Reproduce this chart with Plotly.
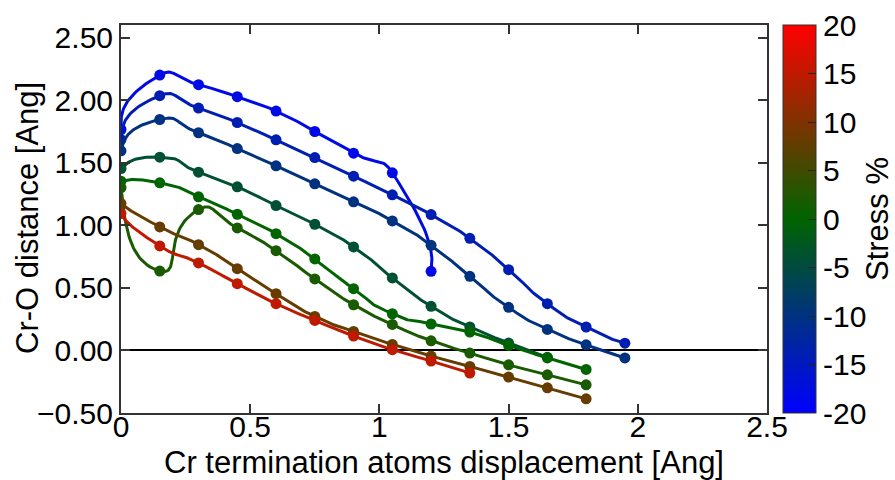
import numpy as np
import plotly.graph_objects as go
from plotly.colors import sample_colorscale

# ---- data ----
displacement = [0.0, 0.15, 0.30, 0.45, 0.60, 0.75, 0.90, 1.05, 1.20, 1.35, 1.50, 1.65, 1.80, 1.95]

stress = [-18, -14, -10, -4, 0, 2, 8, 15]

dist_m18 = [1.765, 2.200, 2.123, 2.027, 1.912, 1.749, 1.576, 1.419, 0.632]
dist_m14 = [1.685, 2.035, 1.936, 1.821, 1.683, 1.541, 1.392, 1.243, 1.085, 0.896, 0.645, 0.373, 0.187, 0.058]
dist_m10 = [1.595, 1.845, 1.739, 1.613, 1.475, 1.331, 1.187, 1.035, 0.840, 0.592, 0.344, 0.168, 0.045, -0.060]
dist_m4 = [1.453, 1.544, 1.424, 1.307, 1.157, 1.008, 0.827, 0.579, 0.352, 0.187, 0.059, -0.055]
dist_0 = [1.352, 1.339, 1.227, 1.088, 0.933, 0.731, 0.493, 0.293, 0.211, 0.147, 0.040, -0.060, -0.152]
dist_2 = [1.300, 0.634, 1.125, 0.979, 0.797, 0.571, 0.365, 0.208, 0.077, -0.021, -0.115, -0.195, -0.275]
dist_8 = [1.173, 0.987, 0.845, 0.653, 0.453, 0.272, 0.152, 0.048, -0.045, -0.128, -0.213, -0.299, -0.387]
dist_15 = [1.093, 0.835, 0.699, 0.533, 0.373, 0.240, 0.115, 0.006, -0.085, -0.181]

series = [dist_m18, dist_m14, dist_m10, dist_m4, dist_0, dist_2, dist_8, dist_15]

x_ticks = [0, 0.5, 1, 1.5, 2, 2.5]
x_ticktext = ["0", "0.5", "1", "1.5", "2", "2.5"]
y_ticks = [-0.5, 0.0, 0.5, 1.0, 1.5, 2.0, 2.5]
cbar_ticks = [-20, -15, -10, -5, 0, 5, 10, 15, 20]

# ---- style / layout ----
cscale = [[0.0, "rgb(0,0,255)"], [0.5, "rgb(0,100,0)"], [1.0, "rgb(255,0,0)"]]
cmin, cmax = -20, 20
FONT = "Liberation Sans"
W, H = 895, 480
ML, MR, MT, MB = 121, 128, 25, 67
PW, PH = W - ML - MR, H - MT - MB
XR = [0, 2.5]
YR = [-0.5, 2.6]
TENSION = 0.7


def smooth_curve(xs, ys, n=40, t=TENSION):
    """Cardinal Hermite smoothing with chord-weighted tangents (data units)."""
    P = np.column_stack([xs, ys]).astype(float)
    d = np.hypot(*np.diff(P, axis=0).T)
    N = len(P)
    m_out = np.zeros_like(P)
    m_in = np.zeros_like(P)
    for i in range(1, N - 1):
        v = P[i + 1] - P[i - 1]
        m_out[i] = 3 * t * d[i] / (d[i - 1] + d[i]) * v
        m_in[i] = 3 * t * d[i - 1] / (d[i - 1] + d[i]) * v
    m_out[0] = (3 * (P[1] - P[0]) - m_in[1]) / 2
    m_in[-1] = (3 * (P[-1] - P[-2]) - m_out[-2]) / 2
    s = np.linspace(0, 1, n)[:, None]
    h00 = 2 * s**3 - 3 * s**2 + 1
    h10 = s**3 - 2 * s**2 + s
    h01 = -2 * s**3 + 3 * s**2
    h11 = s**3 - s**2
    out = []
    for i in range(N - 1):
        seg = h00 * P[i] + h10 * m_out[i] + h01 * P[i + 1] + h11 * m_in[i + 1]
        out.append(seg if i == 0 else seg[1:])
    c = np.vstack(out)
    return c[:, 0], c[:, 1]


fig = go.Figure()
for s, ys in zip(stress, series):
    col = sample_colorscale(cscale, [(s - cmin) / (cmax - cmin)])[0]
    xs = displacement[:len(ys)]
    cx, cy = smooth_curve(xs, ys)
    fig.add_trace(go.Scatter(x=cx, y=cy, mode="lines", line=dict(color=col, width=3),
                             showlegend=False, hoverinfo="skip"))
    fig.add_trace(go.Scatter(x=xs, y=ys, mode="markers", marker=dict(color=col, size=11),
                             showlegend=False, hoverinfo="skip"))

# colorbar carrier
fig.add_trace(go.Scatter(
    x=[None], y=[None], mode="markers", showlegend=False,
    marker=dict(color=[cmin, cmax], cmin=cmin, cmax=cmax, colorscale=cscale, showscale=True,
                colorbar=dict(
                    x=(783 - ML) / PW, xanchor="left", xpad=0,
                    y=0.5, yanchor="middle", len=1, lenmode="fraction", ypad=0,
                    thickness=33, outlinewidth=1, outlinecolor="#333",
                    tickvals=cbar_ticks, ticktext=[str(v) for v in cbar_ticks],
                    ticks="inside", ticklen=8, tickcolor="#222",
                    tickfont=dict(family=FONT, size=30, color="black"),
                )),
))

fig.add_annotation(text="Stress %", textangle=-90, xref="paper", yref="paper",
                   x=(877 - ML) / PW, y=0.5, xanchor="center", yanchor="middle",
                   showarrow=False, borderpad=0, font=dict(family=FONT, size=31, color="black"))
fig.add_annotation(text="Cr-O distance [Ang]", textangle=-90, xref="paper", yref="paper",
                   x=(27 - ML) / PW, y=(H - MB - 218) / PH, xanchor="center", yanchor="middle",
                   showarrow=False, borderpad=0, font=dict(family=FONT, size=31, color="black"))

axis_common = dict(
    showgrid=False, showline=True, linecolor="#333", linewidth=2, mirror="ticks",
    ticks="inside", ticklen=9, tickwidth=1.5, tickcolor="#333", automargin=False,
    tickfont=dict(family=FONT, size=30, color="black"),
)
fig.update_xaxes(range=XR, tickvals=x_ticks, ticktext=x_ticktext, zeroline=False,
                 ticklabelstandoff=-14,
                 title=dict(text="Cr termination atoms displacement [Ang]",
                            font=dict(family=FONT, size=31, color="black"), standoff=10),
                 **axis_common)
fig.update_yaxes(range=YR, tickvals=y_ticks, tickformat=".2f",
                 zeroline=True, zerolinecolor="black", zerolinewidth=2,
                 **axis_common)

fig.update_layout(
    width=W, height=H,
    margin=dict(l=ML, r=MR, t=MT, b=MB, pad=0),
    paper_bgcolor="white", plot_bgcolor="white",
    font=dict(family=FONT, color="black"),
)

fig.write_html("out.html")
